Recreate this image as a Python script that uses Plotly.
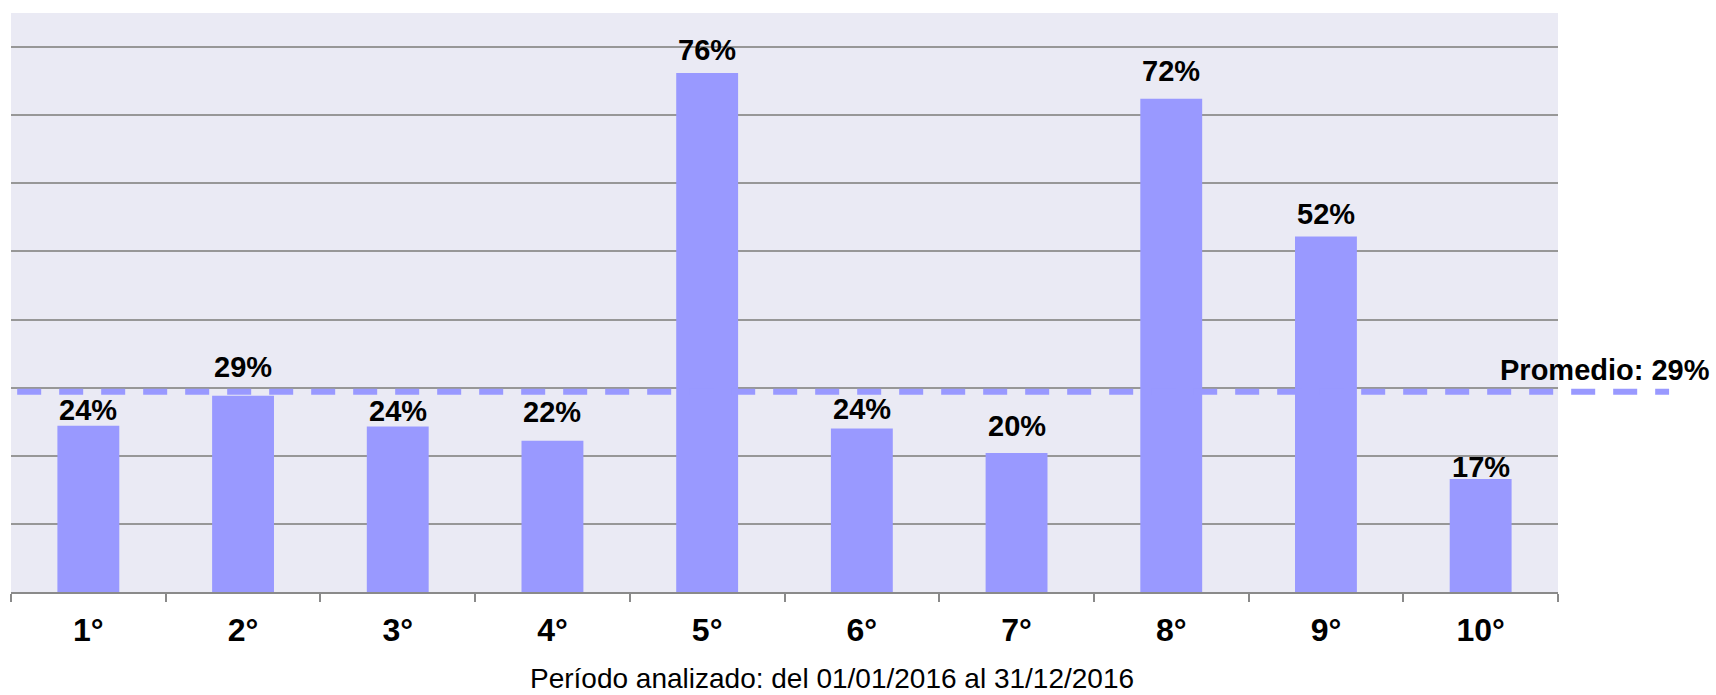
import plotly.graph_objects as go

# Share per position (percent)
positions = ["1°", "2°", "3°", "4°", "5°", "6°", "7°", "8°", "9°", "10°"]
shares = [24.4, 28.8, 24.3, 22.2, 76.2, 24.0, 20.4, 72.4, 52.2, 16.6]
average = 29.4
period_text = "Período analizado: del 01/01/2016 al 31/12/2016"

# Vertical gap (px) between each bar top and its value label
label_gap_px = [5, 18, 5, 18, 12, 9, 17, 17, 12, 1]

BAR = "#9999FF"
GRID = "#979797"
BOLD = dict(family="Liberation Sans, Arial, sans-serif", color="black", weight="bold")

fig = go.Figure()
fig.add_trace(go.Bar(
    x=positions, y=shares, marker=dict(color=BAR, line=dict(width=0)),
    hoverinfo="x+y", showlegend=False,
))

# Value labels above bars
for cat, val, gap in zip(positions, shares, label_gap_px):
    fig.add_annotation(
        x=cat, y=val, xref="x", yref="y", text=f"{val:.0f}%", showarrow=False,
        yanchor="middle", xanchor="center", yshift=gap + 10.5,
        font=dict(size=29, **BOLD),
    )

# Average dashed line, extending past the plot area
fig.add_shape(
    type="line", xref="paper", yref="y", x0=0.004, x1=1.0718, y0=average, y1=average,
    line=dict(color=BAR, width=6, dash="24px,18px"), layer="above",
)
fig.add_annotation(
    x=1.0996, y=average, xref="paper", yref="y", text=f"Promedio: {average:.0f}%",
    showarrow=False, xanchor="right", yanchor="middle", yshift=21.5,
    font=dict(size=29, **BOLD),
)

# Period caption under the axis
fig.add_annotation(
    x=0.5307, y=-0.150, xref="paper", yref="paper", text=period_text, showarrow=False,
    xanchor="center", yanchor="middle",
    font=dict(family="Liberation Sans, Arial, sans-serif", size=28, color="black"),
)

fig.update_layout(
    width=1716, height=695,
    margin=dict(l=11, r=158, t=13, b=103),
    paper_bgcolor="white", plot_bgcolor="#EAEAF4",
    bargap=0.6,
    xaxis=dict(
        type="category", tickson="boundaries", ticks="outside", ticklen=8, tickwidth=2,
        tickcolor="#8a8a8a", showline=True, linecolor="#8a8a8a", linewidth=2,
        showgrid=False, tickfont=dict(size=32, **BOLD), ticklabelstandoff=9,
        fixedrange=True,
    ),
    yaxis=dict(
        range=[0, 85], dtick=10, showticklabels=False, ticks="", showgrid=True,
        gridcolor=GRID, gridwidth=2, zeroline=False, showline=False, fixedrange=True,
    ),
)

fig.write_html("out.html")
